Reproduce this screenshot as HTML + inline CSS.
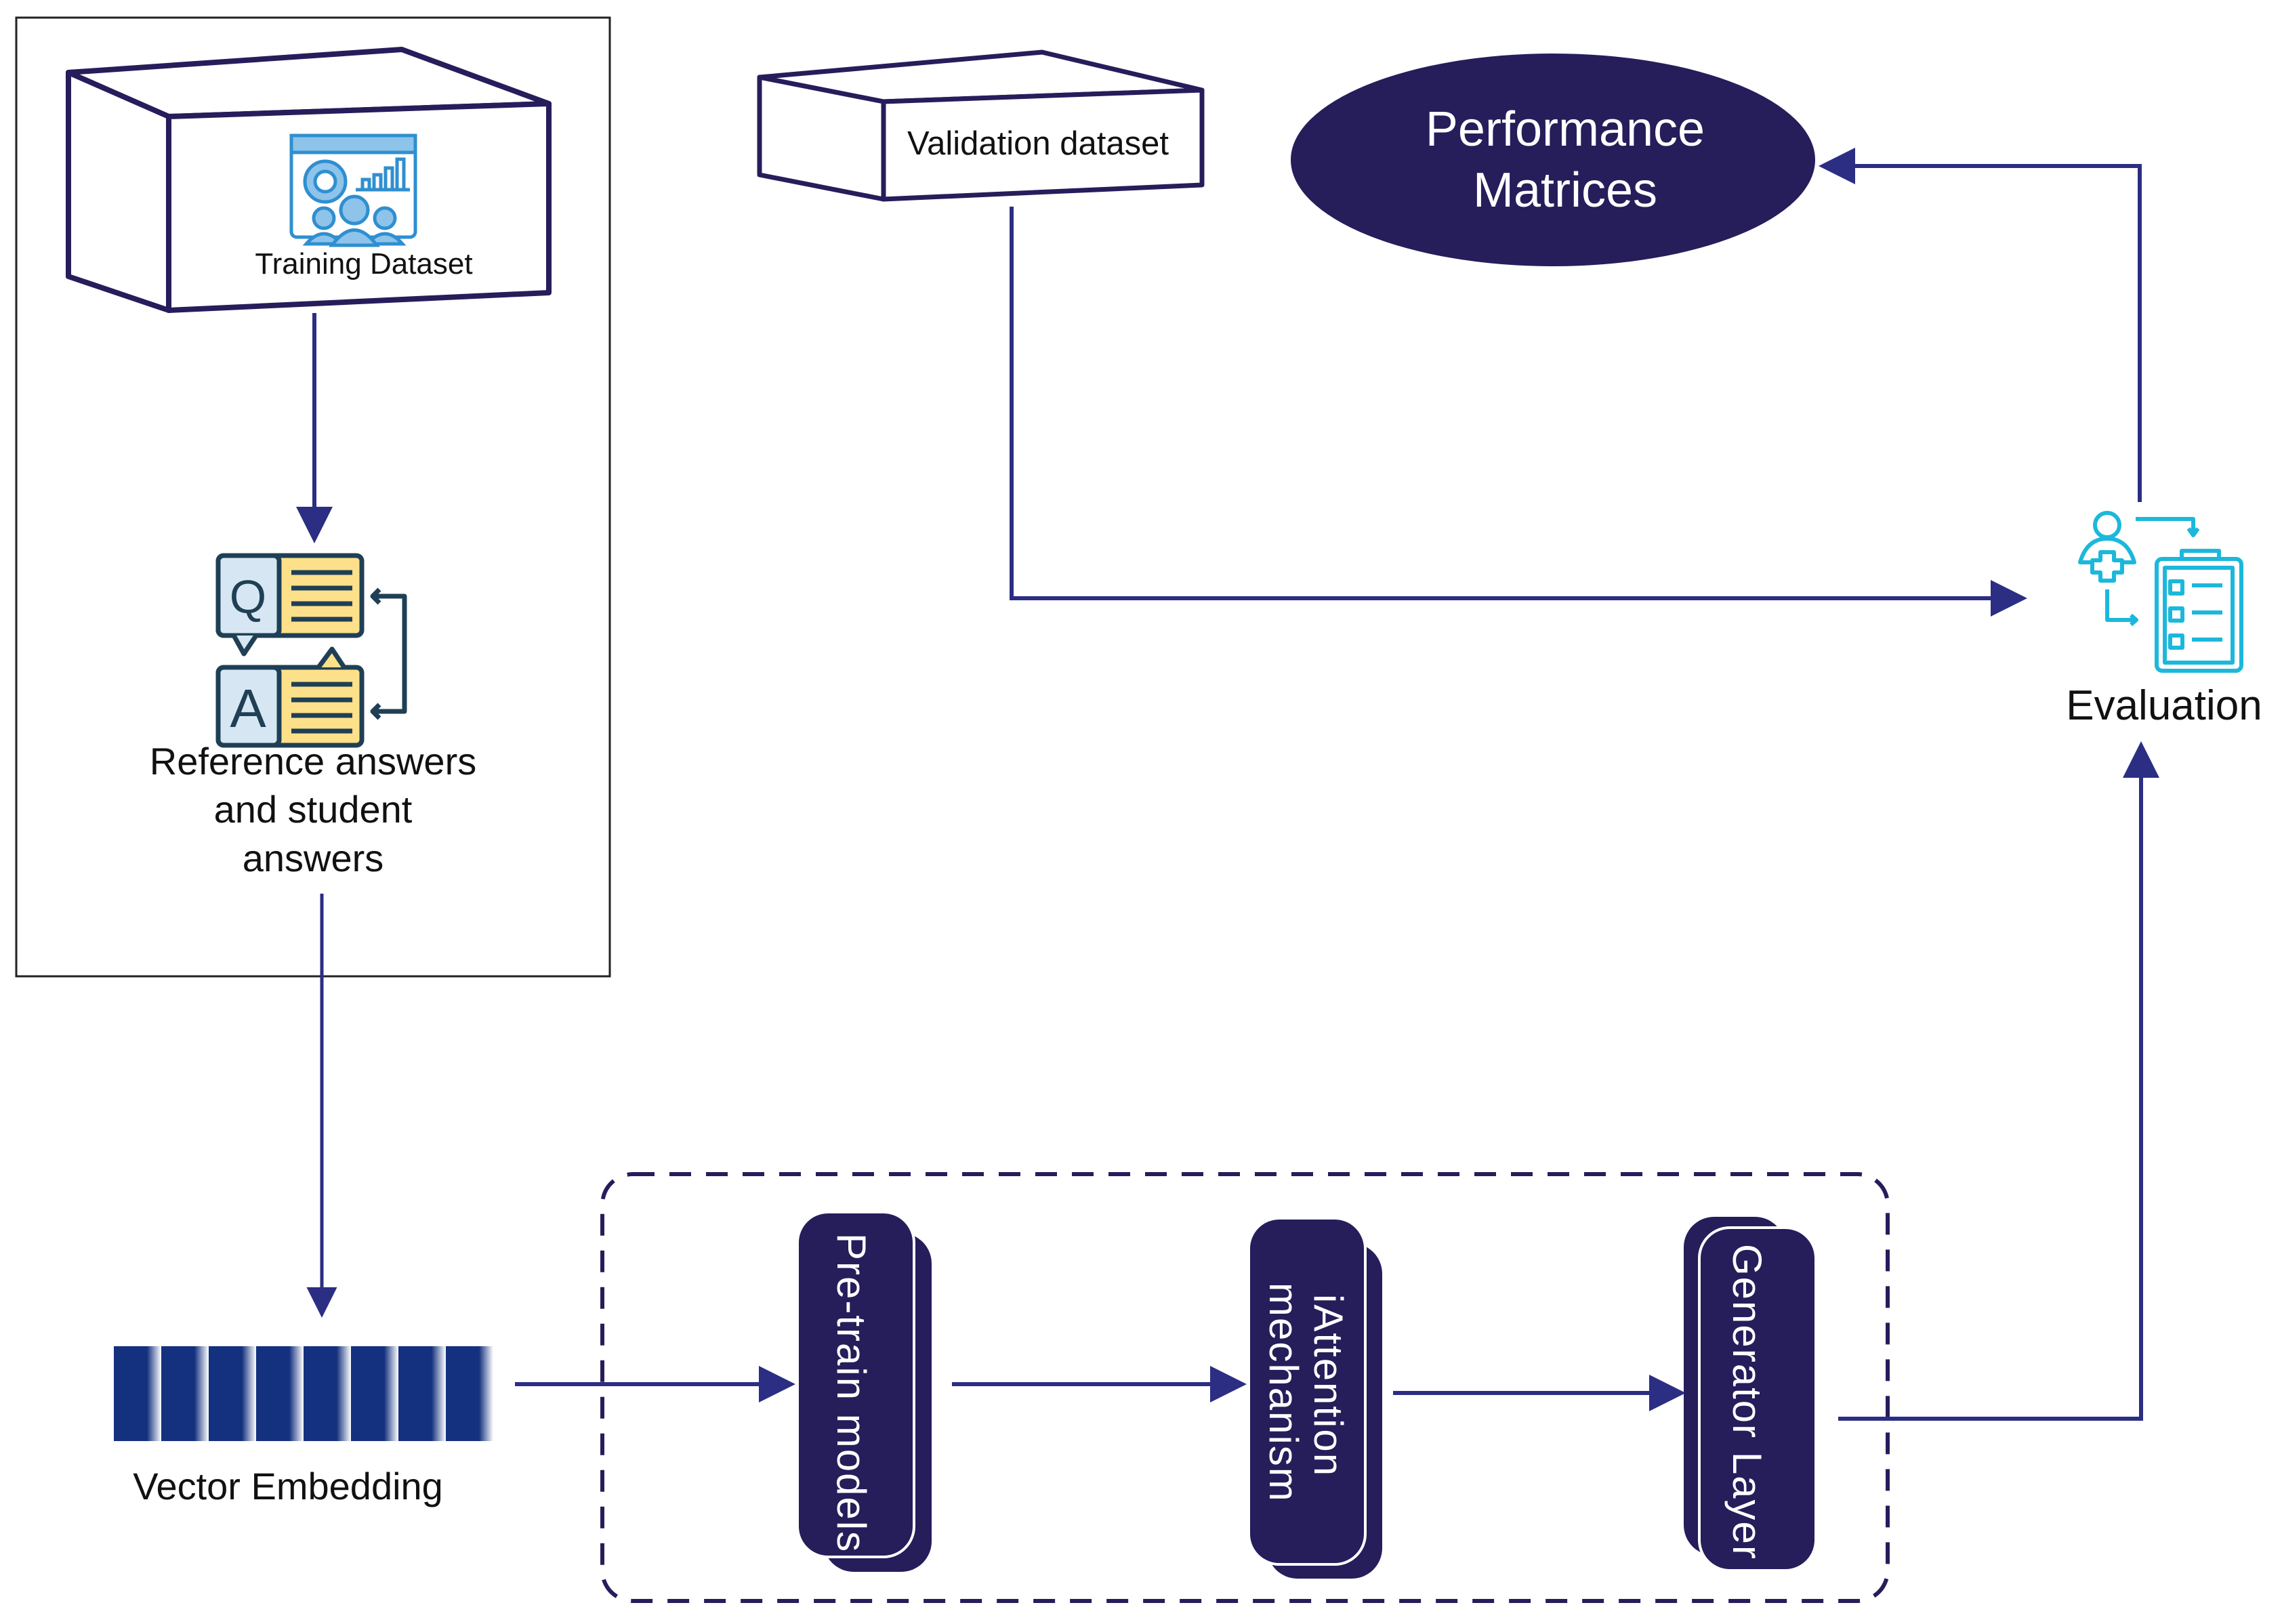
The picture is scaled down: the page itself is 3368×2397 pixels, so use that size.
<!DOCTYPE html>
<html><head><meta charset="utf-8"><style>
html,body{margin:0;padding:0;background:#fff}
svg{display:block}
text{font-family:"Liberation Sans",sans-serif}
</style></head><body>
<svg width="3368" height="2397" viewBox="0 0 3368 2397" xmlns="http://www.w3.org/2000/svg">
<defs>
<marker id="ah" markerWidth="9" markerHeight="9" refX="8" refY="4.5" orient="auto" markerUnits="strokeWidth">
<path d="M0,0 L9,4.5 L0,9 Z" fill="#2b2e83"/></marker>
<linearGradient id="bar" x1="0" x2="1">
<stop offset="0" stop-color="#14317f"/><stop offset="0.7" stop-color="#14317f"/><stop offset="1" stop-color="#ffffff"/></linearGradient>
</defs>

<rect x="24" y="26" width="876" height="1415" fill="none" stroke="#222" stroke-width="3"/>

<g fill="#fff" stroke="#261d5b" stroke-width="8" stroke-linejoin="round">
<polygon points="101,107 593,73 810,153 249,172"/>
<polygon points="101,107 249,172 249,458 101,408"/>
<polygon points="249,172 810,153 810,432 249,458"/>
</g>
<g stroke="#2f8fd0" stroke-width="5" fill="none">
<rect x="430" y="200" width="183" height="150" rx="8" fill="#fff"/>
<rect x="430" y="200" width="183" height="25" fill="#8ec3ea"/>
<circle cx="480" cy="268" r="30" fill="#8ec3ea"/><circle cx="480" cy="268" r="15" fill="#fff"/>
<path d="M525,280 h80 M535,280 v-15 h10 v15 M552,280 v-22 h10 v22 M569,280 v-32 h10 v32 M586,280 v-45 h10 v45"/>
<circle cx="478" cy="322" r="15" fill="#8ec3ea"/><circle cx="568" cy="322" r="15" fill="#8ec3ea"/>
<path d="M452,360 q26,-30 52,0 Z M542,360 q26,-30 52,0 Z" fill="#8ec3ea"/>
<circle cx="523" cy="310" r="20" fill="#8ec3ea"/>
<path d="M490,362 q33,-45 66,0 Z" fill="#8ec3ea"/>
</g>
<text x="537" y="404" font-size="44" text-anchor="middle" fill="#111">Training Dataset</text>

<line x1="464" y1="462" x2="464" y2="796" stroke="#2b2e83" stroke-width="6" marker-end="url(#ah)"/>

<g stroke="#1f3f55" stroke-width="7" stroke-linejoin="round">
<rect x="322" y="820" width="212" height="118" rx="8" fill="#fde08a"/>
<rect x="322" y="820" width="90" height="118" rx="8" fill="#d6e7f3"/>
<path d="M345,938 L360,965 L378,938" fill="#d6e7f3"/>
<rect x="322" y="985" width="212" height="115" rx="8" fill="#fde08a"/>
<rect x="322" y="985" width="90" height="115" rx="8" fill="#d6e7f3"/>
<path d="M470,985 L490,958 L508,985" fill="#fde08a"/>
<path d="M430,845 h90 M430,868 h90 M430,891 h90 M430,914 h90 M430,1010 h90 M430,1033 h90 M430,1056 h90 M430,1079 h90" fill="none"/>
<path d="M552,880 h45 v170 h-45 M560,870 l-10,10 l10,10 M560,1040 l-10,10 l10,10" fill="none"/>
</g>
<text x="366" y="905" font-size="70" text-anchor="middle" fill="#1f3f55">Q</text>
<text x="366" y="1073" font-size="80" text-anchor="middle" fill="#1f3f55">A</text>
<g font-size="56" text-anchor="middle" fill="#111">
<text x="462" y="1143">Reference answers</text>
<text x="462" y="1214">and student</text>
<text x="462" y="1286">answers</text>
</g>

<line x1="475" y1="1319" x2="475" y2="1940" stroke="#2b2e83" stroke-width="5" marker-end="url(#ah)"/>

<g>
<rect x="168" y="1987" width="70" height="140" fill="url(#bar)"/>
<rect x="238" y="1987" width="70" height="140" fill="url(#bar)"/>
<rect x="308" y="1987" width="70" height="140" fill="url(#bar)"/>
<rect x="378" y="1987" width="70" height="140" fill="url(#bar)"/>
<rect x="448" y="1987" width="70" height="140" fill="url(#bar)"/>
<rect x="518" y="1987" width="70" height="140" fill="url(#bar)"/>
<rect x="588" y="1987" width="70" height="140" fill="url(#bar)"/>
<rect x="658" y="1987" width="70" height="140" fill="url(#bar)"/>
</g>
<text x="425" y="2213" font-size="56" text-anchor="middle" fill="#111">Vector Embedding</text>

<rect x="889" y="1733" width="1897" height="630" rx="45" fill="none" stroke="#261d5b" stroke-width="6" stroke-dasharray="32,22"/>

<line x1="760" y1="2043" x2="1168" y2="2043" stroke="#2b2e83" stroke-width="6" marker-end="url(#ah)"/>
<line x1="1405" y1="2043" x2="1834" y2="2043" stroke="#2b2e83" stroke-width="6" marker-end="url(#ah)"/>
<line x1="2056" y1="2056" x2="2482" y2="2056" stroke="#2b2e83" stroke-width="6" marker-end="url(#ah)"/>

<rect x="1215" y="1820" width="160" height="500" rx="45" fill="#261d5b"/>
<rect x="1177" y="1789" width="172" height="509" rx="45" fill="#261d5b" stroke="#fff" stroke-width="4"/>
<text transform="translate(1236,1820) rotate(90)" font-size="60" letter-spacing="2" fill="#fff">Pre-train models</text>
<rect x="1870" y="1835" width="170" height="495" rx="45" fill="#261d5b"/>
<rect x="1843" y="1798" width="172" height="511" rx="45" fill="#261d5b" stroke="#fff" stroke-width="4"/>
<text transform="translate(1940,1910) rotate(90)" font-size="60" letter-spacing="2" fill="#fff">iAttention</text>
<text transform="translate(1874,1893) rotate(90)" font-size="60" letter-spacing="2" fill="#fff">mechanism</text>
<rect x="2485" y="1796" width="150" height="500" rx="45" fill="#261d5b"/>
<rect x="2508" y="1812" width="172" height="506" rx="45" fill="#261d5b" stroke="#fff" stroke-width="4"/>
<text transform="translate(2558,1836) rotate(90)" font-size="60" letter-spacing="2" fill="#fff">Generator Layer</text>

<polyline points="2713,2094 3160,2094 3160,1100" fill="none" stroke="#2b2e83" stroke-width="6" marker-end="url(#ah)"/>

<g stroke="#1cb8db" stroke-width="6" fill="none" stroke-linejoin="round">
<circle cx="3110" cy="775" r="18"/>
<path d="M3070,830 q10,-35 40,-35 q30,0 40,35 Z"/>
<path d="M3100,815 h20 v12 h12 v18 h-12 v12 h-20 v-12 h-12 v-18 h12 Z" fill="#fff"/>
<path d="M3152,766 h85 v20 M3230,780 l7,10 l7,-10"/>
<path d="M3110,870 v45 h40 M3145,908 l8,7 l-8,7"/>
<rect x="3183" y="825" width="125" height="165" rx="8"/>
<rect x="3195" y="838" width="100" height="140"/>
<path d="M3220,825 v-12 h55 v12"/>
<path d="M3203,858 h18 v18 h-18 Z M3235,864 h45 M3203,898 h18 v18 h-18 Z M3235,904 h45 M3203,938 h18 v18 h-18 Z M3235,944 h45"/>
</g>
<text x="3194" y="1062" font-size="62" text-anchor="middle" fill="#111">Evaluation</text>

<polyline points="3158,741 3158,245 2690,245" fill="none" stroke="#2b2e83" stroke-width="6" marker-end="url(#ah)"/>

<ellipse cx="2292" cy="236" rx="387" ry="157" fill="#261d5b"/>
<text x="2310" y="215" font-size="72" text-anchor="middle" fill="#fff">Performance</text>
<text x="2310" y="305" font-size="72" text-anchor="middle" fill="#fff">Matrices</text>

<g fill="#fff" stroke="#261d5b" stroke-width="7" stroke-linejoin="round">
<polygon points="1121,114 1538,77 1774,133 1304,150"/>
<polygon points="1121,114 1304,150 1304,294 1121,258"/>
<polygon points="1304,150 1774,133 1774,273 1304,294"/>
</g>
<text x="1532" y="228" font-size="49" text-anchor="middle" fill="#111">Validation dataset</text>

<polyline points="1493,305 1493,883 2986,883" fill="none" stroke="#2b2e83" stroke-width="6" marker-end="url(#ah)"/>
</svg>
</body></html>
